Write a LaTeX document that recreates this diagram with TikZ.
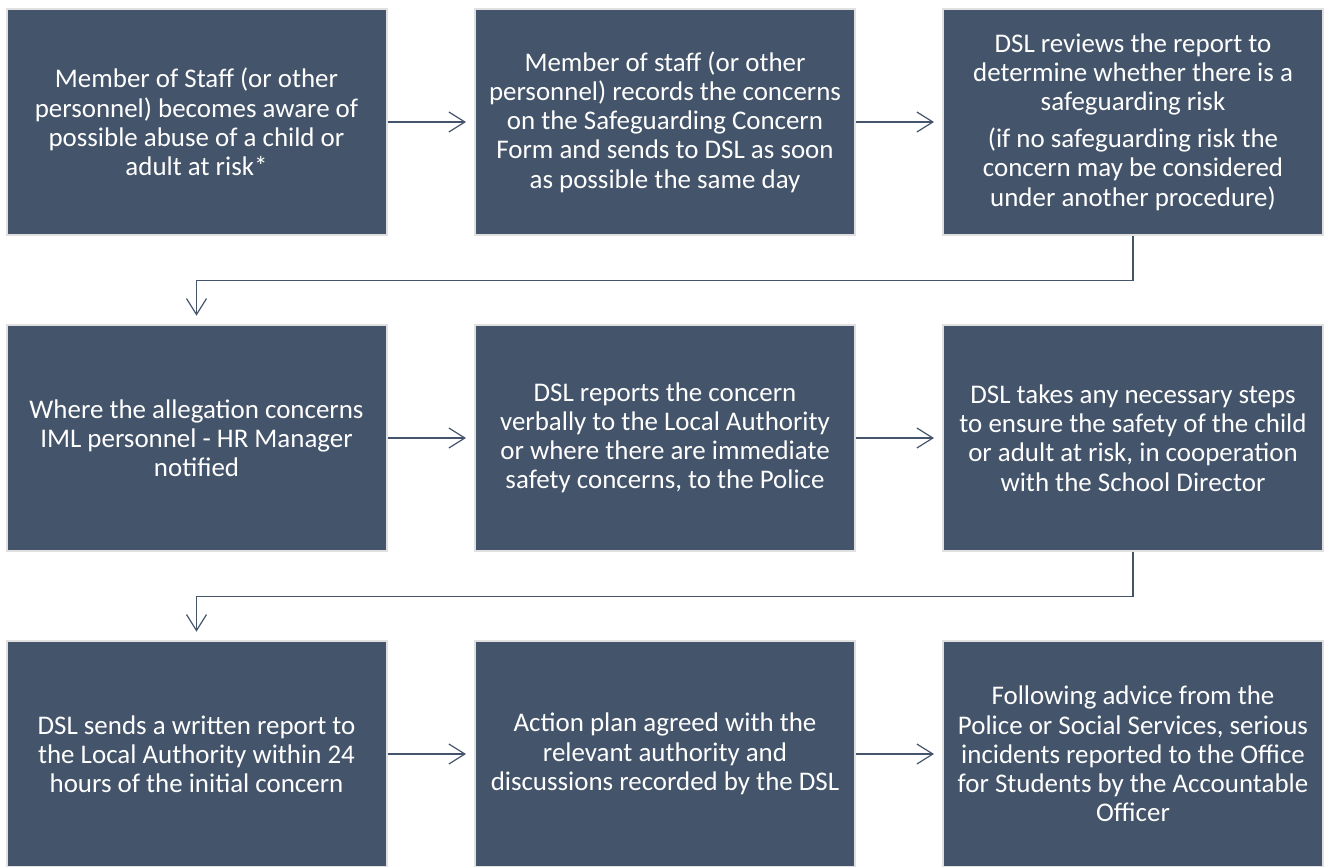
\documentclass[tikz,border=0pt]{standalone}
\usepackage{fontspec}
\setmainfont{Carlito}
\usetikzlibrary{arrows.meta}
\definecolor{boxfill}{RGB}{68,84,106}
\definecolor{boxedge}{RGB}{224,224,224}

\begin{document}
\begin{tikzpicture}[x=0.75pt,y=-0.75pt,
    box/.style={draw=boxedge,line width=1.5pt,fill=boxfill,text=white,
        minimum width=285pt,minimum height=170pt,inner sep=0pt,align=center,
        font=\fontsize{20.2}{21.9}\selectfont},
    link/.style={boxfill,line width=0.9pt,
        -{Straight Barb[length=12pt,width=15pt]},shorten >=6pt}]
    \useasboundingbox (0,0) rectangle (1325,867);

    % first row
    \node[box] (aware) at (196.5,122) {Member of Staff (or other\\personnel) becomes aware of\\
        possible abuse of a child or\\adult at risk*};
    \node[box] (record) at (665,122) {Member of staff (or other\\personnel) records the concerns\\
        on the Safeguarding Concern\\Form and sends to DSL as soon\\as possible the same day};
    \node[box] (review) at (1133,122) {DSL reviews the report to\\determine whether there is a\\
        safeguarding risk\\[6pt](if no safeguarding risk the\\concern may be considered\\
        under another procedure)};

    % second row
    \node[box] (hr) at (196.5,438) {Where the allegation concerns\\IML personnel - HR Manager\\notified};
    \node[box] (report) at (665,438) {DSL reports the concern\\verbally to the Local Authority\\
        or where there are immediate\\safety concerns, to the Police};
    \node[box] (safety) at (1133,438) {DSL takes any necessary steps\\to ensure the safety of the child\\
        or adult at risk, in cooperation\\with the School Director};

    % third row
    \node[box] (written) at (196.5,754) {DSL sends a written report to\\the Local Authority within 24\\
        hours of the initial concern};
    \node[box] (plan) at (665,754) {Action plan agreed with the\\relevant authority and\\
        discussions recorded by the DSL};
    \node[box] (ofs) at (1133,754) {Following advice from the\\Police or Social Services, serious\\
        incidents reported to the Office\\for Students by the Accountable\\Officer};

    \draw[link] (aware) -- (record);
    \draw[link] (record) -- (review);
    \draw[link] (review.south) -- ++(0,44) -| (hr.north);
    \draw[link] (hr) -- (report);
    \draw[link] (report) -- (safety);
    \draw[link] (safety.south) -- ++(0,44) -| (written.north);
    \draw[link] (written) -- (plan);
    \draw[link] (plan) -- (ofs);
\end{tikzpicture}
\end{document}
